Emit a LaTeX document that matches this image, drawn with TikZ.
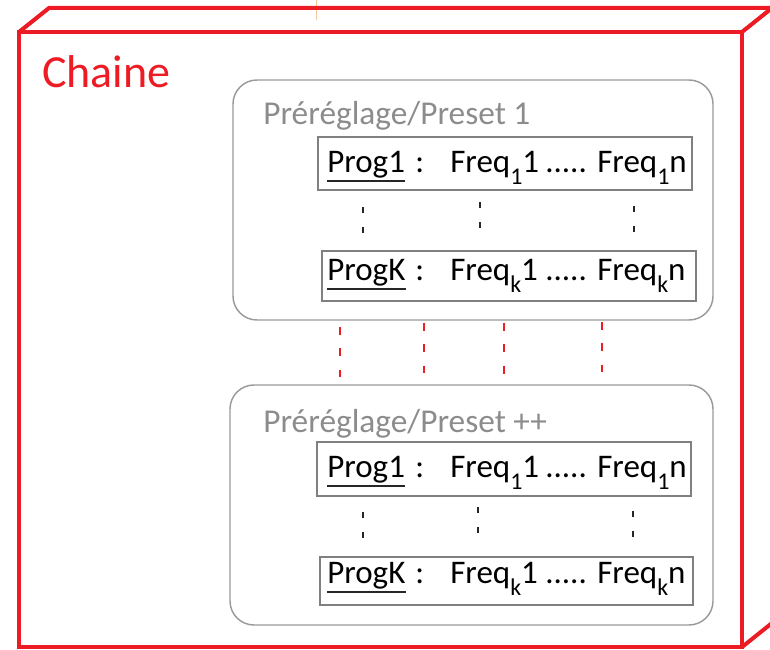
\documentclass[tikz,border=0pt]{standalone}
\usepackage{fontspec}
\setmainfont{Carlito}
\definecolor{chred}{HTML}{ED1C24}
\definecolor{pgray}{HTML}{9A9A9A}
\definecolor{tgray}{HTML}{8C8C8C}
\definecolor{rgray}{HTML}{808080}
\definecolor{tickorange}{HTML}{F7C99A}
\newcommand\sbs[1]{\raisebox{-9pt}{\fontsize{18pt}{18pt}\selectfont #1}}
\tikzset{
  redline/.style={draw=chred, line width=3pt, line join=miter},
  presetbox/.style={draw=pgray, line width=1.1pt, rounded corners=18pt},
  rowbox/.style={draw=rgray, line width=1.4pt},
  title/.style={anchor=base west, inner sep=0pt, text=tgray, font=\fontsize{25pt}{28pt}\selectfont},
  rowtext/.style={anchor=base west, inner sep=0pt, text=black, font=\fontsize{24.75pt}{28pt}\selectfont},
  uline/.style={draw=black!85, line width=1.5pt},
  blackdash/.style={draw=black!85, line width=1.1pt, dash pattern=on 4.5pt off 10.5pt},
  reddash/.style={draw=chred, line width=1.1pt, dash pattern=on 6pt off 10pt},
}
\begin{document}
\begin{tikzpicture}[x=0.75pt,y=-0.75pt]
\useasboundingbox (0,0) rectangle (770,649);
\clip (0,0) rectangle (770,649);
% tiny orange tick
\draw[tickorange, line width=0.75pt] (316,0) -- (316,20);
% 3D red box
\draw[redline] (19,32) rectangle (742,647);
\draw[redline] (19,32) -- (49,8) -- (790,8);
\draw[redline] (742,32) -- (772,8) -- (772,623) -- (742,647);
\node[anchor=base west, inner sep=0pt, text=chred, font=\fontsize{34.5pt}{38pt}\selectfont] (chaine) at (42,88) {Chaine};
% preset boxes
\draw[presetbox] (233,80) rectangle (713,320);
\draw[presetbox] (230,385) rectangle (713,625);
\node[title] (t1) at (263,125) {Préréglage/Preset 1};
\node[title] (t2) at (263,432) {Préréglage/Preset ++};
% rows
\foreach \nm/\xa/\ya/\xb/\yb/\bl/\pg/\sb in {
  a/318/137/692/190/172/Prog1/1,
  b/322/251/696/301/280/ProgK/k,
  c/317/442/691/496/477/Prog1/1,
  d/320/557/693/605/583/ProgK/k}{
  \draw[rowbox] (\xa,\ya) rectangle (\xb,\yb);
  \node[rowtext] (pg-\nm) at (327,\bl) {\pg};
  \draw[uline] ([yshift=-7pt]pg-\nm.base west) -- ([yshift=-7pt]pg-\nm.base east);
  \node[rowtext] (col-\nm) at (415,\bl) {:};
  \node[rowtext] (f1-\nm) at (450,\bl) {Freq\sbs{\sb}1};
  \node[rowtext] (dots-\nm) at (545,\bl) {.....};
  \node[rowtext] (fn-\nm) at (597,\bl) {Freq\sbs{\sb}n};
}
% black dotted separators
\draw[blackdash] (363,207) -- (363,234);
\draw[blackdash] (480,202) -- (480,229);
\draw[blackdash] (634,206) -- (634,233);
\draw[blackdash] (363,512) -- (363,539);
\draw[blackdash] (478,507) -- (478,534);
\draw[blackdash] (633,511) -- (633,538);
% red dashed links between presets
\draw[reddash] (340,327) -- (340,377);
\draw[reddash] (424,323) -- (424,373);
\draw[reddash] (504,323) -- (504,374);
\draw[reddash] (602,322) -- (602,372);
\end{tikzpicture}
\end{document}
